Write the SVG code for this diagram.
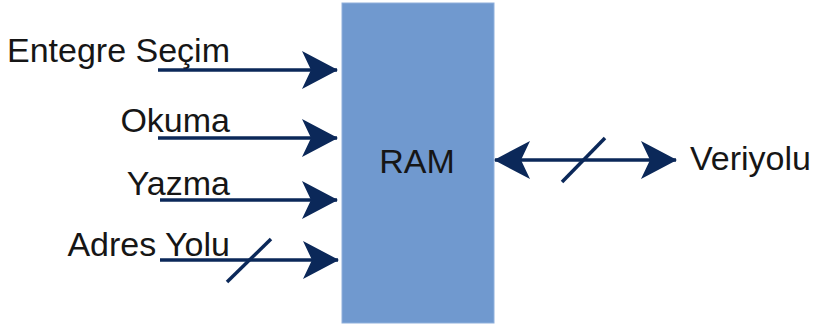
<svg xmlns="http://www.w3.org/2000/svg" width="817" height="327" viewBox="0 0 817 327">
<defs>
<style>
.lbl{font-family:"Liberation Sans",Arial,sans-serif;font-size:34px;fill:#161616}
.ln{stroke:#0b2859;stroke-width:3.5;fill:none}
.head{fill:#0b2859}
</style>
<marker id="ah" viewBox="0 0 36 38" refX="35" refY="19" markerWidth="36" markerHeight="38" markerUnits="userSpaceOnUse" orient="auto-start-reverse">
<path class="head" d="M0,0 L36,19 L0,38 L9,19 Z"/>
</marker>
</defs>
<rect width="817" height="327" fill="#ffffff"/>
<g id="ram">
<rect x="342" y="3" width="152" height="320" fill="#7099cf" stroke="#8fb0dc" stroke-width="1"/>
<text class="lbl" x="417" y="173" text-anchor="middle" font-size="32">RAM</text>
</g>
<g id="lbl-entegre"><text class="lbl" x="230" y="62" text-anchor="end">Entegre Seçim</text></g>
<g id="lbl-okuma"><text class="lbl" x="230" y="132" text-anchor="end">Okuma</text></g>
<g id="lbl-yazma"><text class="lbl" x="230" y="195" text-anchor="end">Yazma</text></g>
<g id="lbl-adres"><text class="lbl" x="230" y="256" text-anchor="end">Adres Yolu</text></g>
<g id="lbl-veriyolu"><text class="lbl" x="690" y="170">Veriyolu</text></g>
<g id="connectors">
<line class="ln" x1="158" y1="70" x2="337" y2="70" marker-end="url(#ah)"/>
<line class="ln" x1="158" y1="138" x2="337" y2="138" marker-end="url(#ah)"/>
<line class="ln" x1="160" y1="200" x2="337" y2="200" marker-end="url(#ah)"/>
<line class="ln" x1="160" y1="260" x2="338" y2="260" marker-end="url(#ah)"/>
<line class="ln" x1="227" y1="282" x2="271" y2="239"/>
<line class="ln" x1="495" y1="160" x2="676" y2="160" marker-start="url(#ah)" marker-end="url(#ah)"/>
<line class="ln" x1="562" y1="182" x2="605" y2="138"/>
</g>
</svg>
